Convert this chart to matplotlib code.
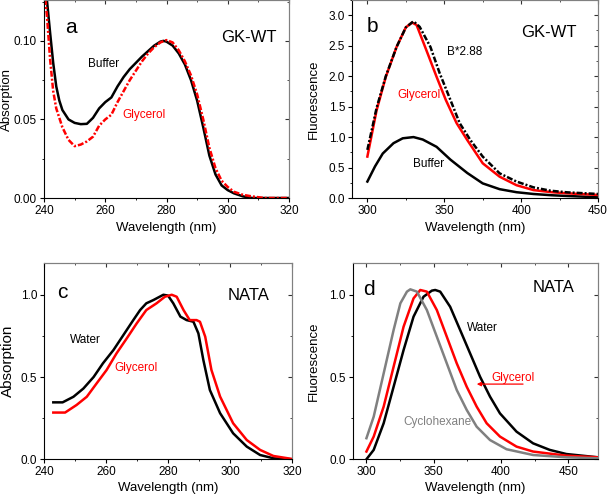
import matplotlib
matplotlib.use("Agg")
import matplotlib.pyplot as plt
from matplotlib.ticker import MultipleLocator, NullFormatter, FormatStrFormatter

plt.rcParams['font.family'] = ['Liberation Sans', 'DejaVu Sans']

# ---- panel a: GK-WT absorption ----
a_buf_x = [240, 241, 242, 243, 244, 245, 246, 248, 250, 252, 254, 256, 258, 260, 262, 264,
           266, 268, 270, 272, 274, 276, 278, 279, 280, 282, 284, 286, 288, 290, 292, 294,
           296, 298, 300, 302, 305, 308, 320]
a_buf_y = [0.140, 0.125, 0.105, 0.086, 0.071, 0.062, 0.056, 0.050, 0.0478, 0.047, 0.0472,
           0.051, 0.057, 0.061, 0.064, 0.071, 0.077, 0.082, 0.086, 0.090, 0.0935, 0.097,
           0.0995, 0.100, 0.0995, 0.097, 0.092, 0.085, 0.075, 0.062, 0.045, 0.027, 0.015,
           0.008, 0.005, 0.003, 0.001, 0.0, 0.0]
a_gly_x = [240, 241, 242, 243, 244, 246, 248, 250, 252, 254, 256, 258, 260, 262, 264, 266,
           268, 270, 272, 274, 276, 278, 280, 282, 284, 286, 288, 290, 292, 294, 296, 298,
           300, 302, 305, 308, 312, 320]
a_gly_y = [0.135, 0.115, 0.088, 0.068, 0.057, 0.045, 0.037, 0.033, 0.034, 0.036, 0.039,
           0.046, 0.050, 0.053, 0.061, 0.068, 0.075, 0.081, 0.087, 0.092, 0.096, 0.099,
           0.1005, 0.099, 0.094, 0.087, 0.078, 0.066, 0.050, 0.032, 0.019, 0.011, 0.007,
           0.004, 0.002, 0.001, 0.0, 0.0]

# ---- panel b: GK-WT fluorescence ----
b_buf_x = [300, 305, 310, 317, 323, 330, 336, 345, 354, 365, 375, 386, 397, 408, 420, 430, 450]
b_buf_y = [0.27, 0.52, 0.73, 0.90, 0.98, 1.00, 0.96, 0.84, 0.63, 0.41, 0.24, 0.145, 0.095,
           0.066, 0.045, 0.033, 0.012]
b_gly_x = [300, 306, 312, 319, 325, 329, 332, 338, 345, 351, 358, 365, 375, 386, 397, 408,
           420, 430, 450]
b_gly_y = [0.68, 1.44, 1.99, 2.48, 2.80, 2.88, 2.84, 2.45, 1.99, 1.61, 1.23, 0.95, 0.57,
           0.35, 0.21, 0.13, 0.095, 0.077, 0.05]
b_scl_x = [300, 306, 312, 319, 325, 330, 334, 341, 347, 354, 360, 367, 375, 386, 397, 408,
           419, 430, 450]
b_scl_y = [0.79, 1.48, 2.00, 2.48, 2.80, 2.90, 2.81, 2.48, 2.05, 1.61, 1.23, 0.95, 0.68,
           0.405, 0.27, 0.175, 0.12, 0.093, 0.066]

# ---- panel c: NATA absorption ----
c_wat_x = [243, 246, 249.5, 252.7, 256, 259, 262.4, 265.6, 268.8, 271, 273, 275.3, 278.5,
           280, 281.7, 284, 286, 288.2, 289.8, 291.4, 293.5, 296.8, 301, 305.4, 309.7, 314, 320]
c_wat_y = [0.346, 0.346, 0.38, 0.43, 0.50, 0.583, 0.664, 0.755, 0.846, 0.907, 0.948, 0.968,
           1.0, 0.995, 0.948, 0.867, 0.846, 0.836, 0.765, 0.603, 0.421, 0.28, 0.158, 0.077,
           0.026, 0.006, 0.0]
c_gly_x = [243, 246.8, 250.5, 253.8, 257, 260.2, 263.4, 266.7, 269.9, 273, 276.3, 279,
           281.2, 282.8, 285, 287, 289.2, 290.3, 292, 294, 296.8, 301, 305.4, 309.7, 314, 320]
c_gly_y = [0.284, 0.284, 0.33, 0.38, 0.462, 0.543, 0.644, 0.735, 0.826, 0.907, 0.948, 0.988,
           1.0, 0.988, 0.907, 0.846, 0.846, 0.836, 0.745, 0.543, 0.381, 0.219, 0.117, 0.057,
           0.02, 0.002]

# ---- panel d: NATA fluorescence ----
d_wat_x = [300, 305.4, 312.8, 320.2, 327.6, 335, 342.4, 348.6, 351.1, 354.8, 362.2, 369.6,
           377, 384.4, 391.8, 399.2, 411.5, 423.8, 436.2, 448.5, 472]
d_wat_y = [0.0, 0.057, 0.219, 0.441, 0.664, 0.867, 0.988, 1.025, 1.029, 1.019, 0.927, 0.786,
           0.644, 0.502, 0.381, 0.279, 0.168, 0.097, 0.057, 0.032, 0.012]
d_gly_x = [300, 305.4, 312.8, 320.2, 327.6, 335, 340, 344.9, 352.3, 359.7, 367.1, 374.5,
           381.9, 389.3, 399.2, 411.5, 423.8, 448.5, 472]
d_gly_y = [0.047, 0.138, 0.32, 0.563, 0.806, 0.978, 1.029, 1.019, 0.907, 0.745, 0.583,
           0.441, 0.32, 0.219, 0.138, 0.077, 0.047, 0.022, 0.012]
d_cyc_x = [300, 305.4, 312.8, 320.2, 325.2, 330.1, 332.6, 337.5, 344.9, 352.3, 359.7, 367.1,
           374.5, 381.9, 391.8, 404.1, 423.8, 448.5, 472]
d_cyc_y = [0.128, 0.259, 0.522, 0.786, 0.948, 1.019, 1.033, 1.019, 0.907, 0.745, 0.583,
           0.421, 0.30, 0.198, 0.117, 0.061, 0.026, 0.012, 0.006]

RED = "#ff0000"
GRAY = "#808080"
DASHDOT = (0, (2.4, 0.8, 0.8, 0.8))
LW = 1.8


def style_axes(ax, xmaj, xmin, ymaj, ymin, yfmt):
    ax.xaxis.set_major_locator(MultipleLocator(xmaj))
    ax.xaxis.set_minor_locator(MultipleLocator(xmin))
    ax.yaxis.set_major_locator(MultipleLocator(ymaj))
    ax.yaxis.set_minor_locator(MultipleLocator(ymin))
    ax.yaxis.set_major_formatter(FormatStrFormatter(yfmt))
    ax.tick_params(which="both", direction="out", top=False, right=False, labelsize=8.5,
                   pad=2)
    ax.tick_params(which="major", length=3)
    ax.tick_params(which="minor", length=1.5)
    for s in ("top", "right"):
        ax.spines[s].set_color(GRAY)
    # mirrored inward ticks on top and right
    top = ax.secondary_xaxis("top")
    top.xaxis.set_major_locator(MultipleLocator(xmaj))
    top.xaxis.set_minor_locator(MultipleLocator(xmin))
    top.xaxis.set_major_formatter(NullFormatter())
    top.tick_params(which="both", direction="in", color="#333333")
    top.tick_params(which="major", length=3)
    top.tick_params(which="minor", length=1.5)
    top.spines["top"].set_color(GRAY)
    right = ax.secondary_yaxis("right")
    right.yaxis.set_major_locator(MultipleLocator(ymaj))
    right.yaxis.set_minor_locator(MultipleLocator(ymin))
    right.yaxis.set_major_formatter(NullFormatter())
    right.tick_params(which="both", direction="in", color="#333333")
    right.tick_params(which="major", length=3)
    right.tick_params(which="minor", length=1.5)
    right.spines["right"].set_color(GRAY)


fig = plt.figure(figsize=(6.07, 4.99), dpi=100)
ax_a = fig.add_axes([0.0725, 0.6032, 0.4036, 0.3968])
ax_b = fig.add_axes([0.5799, 0.6032, 0.4053, 0.3968])
ax_c = fig.add_axes([0.0725, 0.0796, 0.4086, 0.394])
ax_d = fig.add_axes([0.5815, 0.0796, 0.4036, 0.394])

# a
ax_a.plot(a_buf_x, a_buf_y, color="black", lw=LW)
ax_a.plot(a_gly_x, a_gly_y, color=RED, lw=LW, linestyle=DASHDOT)
ax_a.set_xlim(240, 320)
ax_a.set_ylim(0, 0.126)
style_axes(ax_a, 20, 10, 0.05, 0.025, "%.2f")
ax_a.set_xlabel("Wavelength (nm)", fontsize=9.5)
ax_a.xaxis.set_label_coords(0.5, -0.122)
ax_a.set_ylabel("Absorption", fontsize=9.5)
ax_a.yaxis.set_label_coords(-0.126, 0.5)
ax_a.text(248.7, 0.1086, "a", fontsize=15, ha="center", va="center")
ax_a.text(306.8, 0.1022, "GK-WT", fontsize=12, ha="center", va="center")
ax_a.text(259.6, 0.0854, "Buffer", fontsize=8.5, ha="center", va="center")
ax_a.text(272.5, 0.0529, "Glycerol", fontsize=8.5, ha="center", va="center", color=RED)

# b
ax_b.plot(b_buf_x, b_buf_y, color="black", lw=LW)
ax_b.plot(b_gly_x, b_gly_y, color=RED, lw=LW)
ax_b.plot(b_scl_x, b_scl_y, color="black", lw=LW, linestyle=DASHDOT)
ax_b.set_xlim(290, 450)
ax_b.set_ylim(0, 3.25)
style_axes(ax_b, 50, 25, 0.5, 0.25, "%.1f")
ax_b.set_xlabel("Wavelength (nm)", fontsize=9.5)
ax_b.xaxis.set_label_coords(0.5, -0.122)
ax_b.set_ylabel("Fluorescence", fontsize=9.5)
ax_b.yaxis.set_label_coords(-0.13, 0.5)
ax_b.text(303.5, 2.82, "b", fontsize=15, ha="center", va="center")
ax_b.text(417.9, 2.72, "GK-WT", fontsize=12, ha="center", va="center")
ax_b.text(363.5, 2.39, "B*2.88", fontsize=8.5, ha="center", va="center")
ax_b.text(333.8, 1.69, "Glycerol", fontsize=8.5, ha="center", va="center", color=RED)
ax_b.text(340.0, 0.558, "Buffer", fontsize=8.5, ha="center", va="center")

# c
ax_c.plot(c_wat_x, c_wat_y, color="black", lw=LW)
ax_c.plot(c_gly_x, c_gly_y, color=RED, lw=LW)
ax_c.set_xlim(240, 320)
ax_c.set_ylim(0, 1.195)
style_axes(ax_c, 20, 10, 0.5, 0.25, "%.1f")
ax_c.set_xlabel("Wavelength (nm)", fontsize=9.5)
ax_c.xaxis.set_label_coords(0.5, -0.118)
ax_c.set_ylabel("Absorption", fontsize=11)
ax_c.yaxis.set_label_coords(-0.118, 0.5)
ax_c.text(245.8, 1.016, "c", fontsize=15, ha="center", va="center")
ax_c.text(306.1, 0.998, "NATA", fontsize=12, ha="center", va="center")
ax_c.text(253.2, 0.725, "Water", fontsize=8.5, ha="center", va="center")
ax_c.text(269.8, 0.555, "Glycerol", fontsize=8.5, ha="center", va="center", color=RED)

# d
ax_d.plot(d_wat_x, d_wat_y, color="black", lw=LW)
ax_d.plot(d_gly_x, d_gly_y, color=RED, lw=LW)
ax_d.plot(d_cyc_x, d_cyc_y, color=GRAY, lw=LW)
ax_d.set_xlim(290, 472)
ax_d.set_ylim(0, 1.195)
style_axes(ax_d, 50, 25, 0.5, 0.25, "%.1f")
ax_d.set_xlabel("Wavelength (nm)", fontsize=9.5)
ax_d.xaxis.set_label_coords(0.5, -0.118)
ax_d.set_ylabel("Fluorescence", fontsize=9.5)
ax_d.yaxis.set_label_coords(-0.135, 0.5)
ax_d.text(302.2, 1.032, "d", fontsize=15, ha="center", va="center")
ax_d.text(439.2, 1.044, "NATA", fontsize=12, ha="center", va="center")
ax_d.text(385.9, 0.795, "Water", fontsize=8.5, ha="center", va="center")
ax_d.text(409.2, 0.494, "Glycerol", fontsize=8.5, ha="center", va="center", color=RED)
ax_d.text(352.9, 0.227, "Cyclohexane", fontsize=8.5, ha="center", va="center", color=GRAY)
ax_d.annotate("", xy=(379.9, 0.457), xytext=(418.4, 0.457),
              arrowprops=dict(arrowstyle="-|>", color=RED, lw=0.9, mutation_scale=6))

fig.savefig("out.png", dpi=100)
